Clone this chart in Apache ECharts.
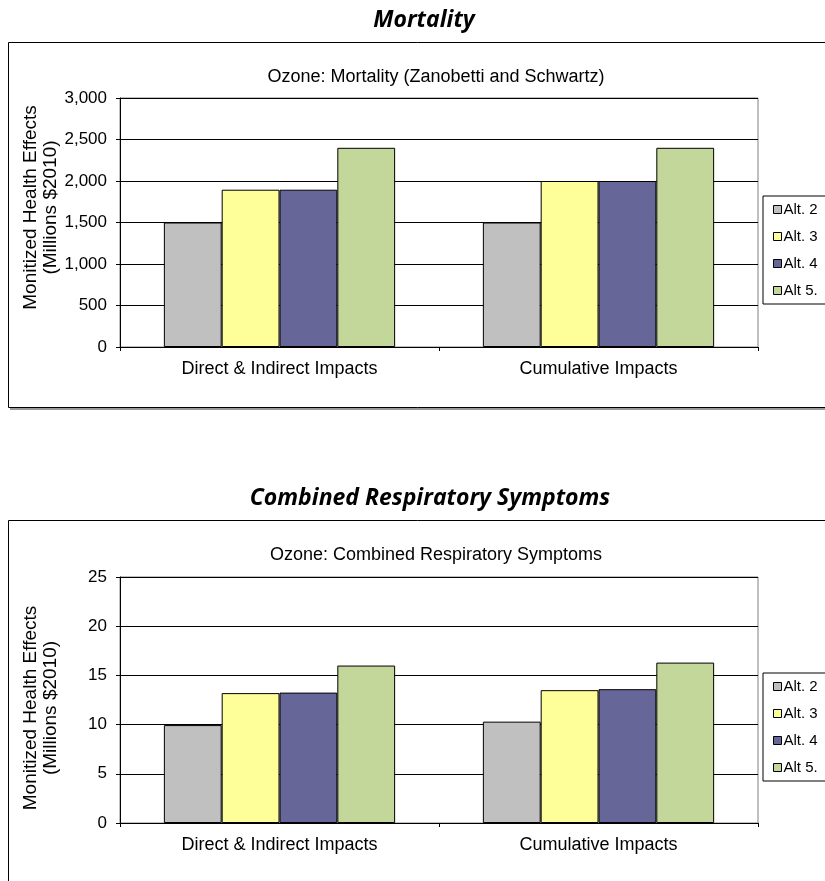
<!DOCTYPE html>
<html>
<head>
<meta charset="utf-8">
<script src="https://cdn.jsdelivr.net/npm/echarts@6/dist/echarts.min.js"></script>
<style>
  html, body { margin: 0; padding: 0; background: #fff; }
  #chart { width: 825px; height: 881px; }
</style>
</head>
<body>
<div id="chart"></div>
<script>
// data
const categories = ['Direct & Indirect Impacts', 'Cumulative Impacts'];
const seriesNames = ['Alt. 2', 'Alt. 3', 'Alt. 4', 'Alt 5.'];
const seriesColors = ['#C0C0C0', '#FFFF99', '#666699', '#C4D79B'];

// Mortality (millions $2010)
const mortAlt2 = [1500, 1500];
const mortAlt3 = [1895, 2000];
const mortAlt4 = [1895, 2000];
const mortAlt5 = [2400, 2400];

// Combined respiratory symptoms (millions $2010)
const respAlt2 = [9.95, 10.3];
const respAlt3 = [13.2, 13.5];
const respAlt4 = [13.25, 13.6];
const respAlt5 = [16.0, 16.3];

const mortTicks = { min: 0, max: 3000, interval: 500 };
const respTicks = { min: 0, max: 25, interval: 5 };

const font = 'Liberation Sans, Arial, sans-serif';
const headFont = 'Open Sans';
const yName = 'Monitized Health Effects\n(Millions $2010)';

function xAxisFor(gridIndex) {
    return {
        type: 'category',
        gridIndex: gridIndex,
        data: categories,
        axisLine: { lineStyle: { color: '#000', width: 1 } },
        axisTick: { show: true, length: 4, lineStyle: { color: '#000' } },
        axisLabel: { color: '#000', fontSize: 18, fontFamily: font, margin: 13 }
    };
}

// namePad shifts the axis name along the axis (Excel doesn't centre it exactly)
function yAxisFor(gridIndex, ticks, namePad) {
    return {
        type: 'value',
        gridIndex: gridIndex,
        min: ticks.min,
        max: ticks.max,
        interval: ticks.interval,
        name: yName,
        nameLocation: 'middle',
        nameGap: 59,
        nameMoveOverlap: false,
        nameTextStyle: { color: '#000', fontSize: 19, fontFamily: font, lineHeight: 20, padding: namePad },
        axisLine: { show: true, lineStyle: { color: '#000', width: 1 } },
        axisTick: { show: true, length: 4, lineStyle: { color: '#000' } },
        axisLabel: {
            color: '#000', fontSize: 17, fontFamily: font, margin: 13,
            formatter: v => v.toLocaleString('en-US')
        },
        splitLine: { show: true, lineStyle: { color: '#000', width: 1 } }
    };
}

function barsFor(gridIndex, lists) {
    return lists.map((vals, i) => ({
        name: seriesNames[i],
        type: 'bar',
        xAxisIndex: gridIndex,
        yAxisIndex: gridIndex,
        data: vals,
        barGap: '0%',
        barCategoryGap: '27.5%',
        itemStyle: { color: seriesColors[i], borderColor: '#000', borderWidth: 1 },
        emphasis: { disabled: true }
    }));
}

function legendFor(top) {
    return {
        orient: 'vertical',
        left: 763,
        top: top,
        data: seriesNames,
        icon: 'rect',
        itemWidth: 8,
        itemHeight: 8,
        itemGap: 10,
        padding: [5, 30, 5, 10],
        borderColor: '#000',
        borderWidth: 1,
        backgroundColor: '#fff',
        textStyle: { color: '#000', fontSize: 15, fontFamily: font, lineHeight: 17, padding: [0, 0, 0, -3] },
        itemStyle: { borderColor: '#000', borderWidth: 1 }
    };
}

const chart = echarts.init(document.getElementById('chart'));
const option = {
    animation: false,
    backgroundColor: '#fff',
    title: [
        { text: 'Mortality', left: 419, top: 4, textAlign: 'center',
          textStyle: { fontSize: 23, fontStyle: 'italic', fontWeight: 'bold', fontFamily: headFont, color: '#000' } },
        { text: 'Ozone: Mortality (Zanobetti and Schwartz)', left: 431, top: 63, textAlign: 'center',
          textStyle: { fontSize: 18, fontWeight: 'normal', fontFamily: font, color: '#000' } },
        { text: 'Combined Respiratory Symptoms', left: 425, top: 482, textAlign: 'center',
          textStyle: { fontSize: 23, fontStyle: 'italic', fontWeight: 'bold', fontFamily: headFont, color: '#000' } },
        { text: 'Ozone: Combined Respiratory Symptoms', left: 431, top: 541, textAlign: 'center',
          textStyle: { fontSize: 18, fontWeight: 'normal', fontFamily: font, color: '#000' } }
    ],
    graphic: [
        { type: 'rect', shape: { x: 8.5, y: 42.5, width: 840, height: 365 },
          style: { fill: 'none', stroke: '#000', lineWidth: 1 }, z: -10 },
        { type: 'line', shape: { x1: 10, y1: 409, x2: 825, y2: 409 },
          style: { stroke: '#999', lineWidth: 2 }, z: -11 },
        { type: 'rect', shape: { x: 8.5, y: 520.5, width: 840, height: 400 },
          style: { fill: 'none', stroke: '#000', lineWidth: 1 }, z: -10 }
    ],
    legend: [legendFor(196), legendFor(673)],
    grid: [
        { left: 120, top: 98, width: 638, height: 249, show: true, borderColor: '#808080', borderWidth: 1 },
        { left: 120, top: 577, width: 638, height: 246, show: true, borderColor: '#808080', borderWidth: 1 }
    ],
    xAxis: [xAxisFor(0), xAxisFor(1)],
    yAxis: [yAxisFor(0, mortTicks, [0, 0, 0, 30]), yAxisFor(1, respTicks, [0, 16, 0, 0])],
    series: [
        ...barsFor(0, [mortAlt2, mortAlt3, mortAlt4, mortAlt5]),
        ...barsFor(1, [respAlt2, respAlt3, respAlt4, respAlt5])
    ]
};
chart.setOption(option);
</script>
</body>
</html>
